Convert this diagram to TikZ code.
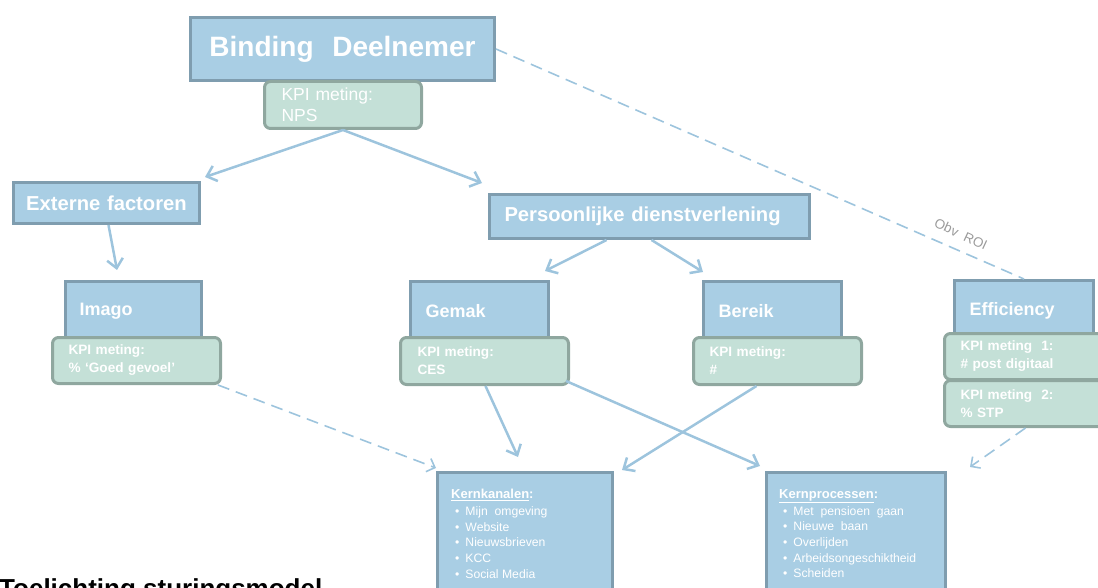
\documentclass[tikz,border=0pt]{standalone}
\usepackage{fontspec}
\setmainfont{Liberation Sans}
\usetikzlibrary{arrows.meta}
\definecolor{bfill}{HTML}{A9CEE4}
\definecolor{bdr}{HTML}{7F9DAF}
\definecolor{gfill}{HTML}{C4E0D7}
\definecolor{gdr}{HTML}{8FA79F}
\definecolor{arr}{HTML}{9DC4DD}
\definecolor{roi}{HTML}{9A9A9A}
\tikzset{
  bluebox/.style={draw=bdr, fill=bfill, line width=3pt, anchor=north west, inner ysep=0pt, text=white, align=left},
  greenbox/.style={draw=gdr, fill=gfill, line width=3pt, rounded corners=6pt, anchor=north west, inner ysep=0pt, text=white, align=left},
  conn/.style={draw=arr, line width=2.5pt, -{Straight Barb[length=9pt,width=16pt,line width=2.5pt]}},
  dconn/.style={draw=arr, line width=1.6pt, dash pattern=on 12pt off 7pt},
  kpi/.style={font=\bfseries\fontsize{13.6}{18}\selectfont},
  head/.style={font=\bfseries\fontsize{18}{22}\selectfont},
  list/.style={anchor=north west, inner sep=0pt, text=white, align=left, font=\fontsize{12.2}{15.6}\selectfont}
}
\newcommand{\itm}{\hspace*{4pt}•\hspace{6pt}}
\begin{document}
\begin{tikzpicture}[x=1pt,y=-1pt]
\useasboundingbox (0,0) rectangle (1098,588);
\clip (0,0) rectangle (1098,588);
% top
\node[bluebox, minimum width=304pt, minimum height=63pt, text width=304pt, inner xsep=0pt, align=center,
      font=\bfseries\fontsize{28}{32}\selectfont] (bind) at (189,16) {\raisebox{-3pt}{Binding\ \ Deelnemer}};
\node[greenbox, minimum width=157pt, minimum height=47pt, text width=123pt, inner xsep=17pt,
      font=\fontsize{17.5}{21}\selectfont] (nps) at (263,80) {KPI meting:\\NPS};
% level 2
\node[bluebox, minimum width=186pt, minimum height=41pt, text width=186pt, inner xsep=0pt, align=center,
      font=\bfseries\fontsize{20.2}{24}\selectfont] (ext) at (12,181) {Externe factoren};
\node[bluebox, minimum width=320pt, minimum height=44pt, text width=290pt, inner xsep=15pt,
      font=\bfseries\fontsize{20.2}{24}\selectfont] (pers) at (488,193) {Persoonlijke dienstverlening};
% level 3 blue
\node[bluebox, head, minimum width=136pt, minimum height=60pt, text width=108pt, inner xsep=14pt] (imago) at (64,280) {Imago};
\node[bluebox, head, minimum width=138pt, minimum height=60pt, text width=108pt, inner xsep=15pt] (gemak) at (409,280) {Gemak};
\node[bluebox, head, minimum width=138pt, minimum height=60pt, text width=108pt, inner xsep=15pt] (bereik) at (702,280) {Bereik};
\node[bluebox, head, minimum width=139pt, minimum height=60pt, text width=109pt, inner xsep=15pt] (eff) at (953,279) {Efficiency};
% level 3 green
\node[greenbox, kpi, minimum width=168pt, minimum height=46pt, text width=136pt, inner xsep=16pt] (imagokpi) at (51,336) {KPI meting:\\\% ‘Goed gevoel’};
\node[greenbox, kpi, minimum width=168pt, minimum height=47pt, text width=134pt, inner xsep=17pt] (gemakkpi) at (399,336) {KPI meting:\\CES};
\node[greenbox, kpi, minimum width=168pt, minimum height=47pt, text width=136pt, inner xsep=16pt] (bereikkpi) at (692,336) {KPI meting:\\\#};
\node[greenbox, kpi, minimum width=165pt, minimum height=46pt, text width=133pt, inner xsep=16pt] (effkpi1) at (943,332) {KPI meting\ \ 1:\\\# post digitaal};
\node[greenbox, kpi, minimum width=165pt, minimum height=46pt, text width=133pt, inner xsep=16pt] (effkpi2) at (943,379) {KPI meting\ \ 2:\\\% STP};
% bottom boxes
\node[bluebox, minimum width=175pt, minimum height=135pt] (kk) at (436,471) {};
\node[list] (kktext) at (451,489) {\textbf{\fontsize{13}{15.6}\selectfont\underline{Kernkanalen}:}\\[1.5pt]
  \itm Mijn\ \ omgeving\\ \itm Website\\ \itm Nieuwsbrieven\\ \itm KCC\\ \itm Social Media};
\node[bluebox, minimum width=179pt, minimum height=135pt] (kp) at (765,471) {};
\node[list] (kptext) at (779,489) {\textbf{\fontsize{13}{15.6}\selectfont\underline{Kernprocessen}:}\\[1.5pt]
  \itm Met\ \ pensioen\ \ gaan\\ \itm Nieuwe\ \ baan\\ \itm Overlijden\\ \itm Arbeidsongeschiktheid\\ \itm Scheiden};
% caption (cut off)
\node[anchor=base west, inner sep=0pt, font=\bfseries\fontsize{26}{30}\selectfont] (cap) at (-1,597) {Toelichting sturingsmodel};
% arrow tip coordinates
\coordinate (tExt) at (205,177);
\coordinate (tPers) at (482,183);
\coordinate (tImago) at (117,270);
\coordinate (tGemak) at (545,271);
\coordinate (tBereik) at (703,272);
\coordinate (tKK1) at (518,457);
\coordinate (tKK2) at (622,470);
\coordinate (tKP1) at (760,466);
\coordinate (tKKd) at (436,468);
\coordinate (tKPd) at (970,467);
\coordinate (sGemakR) at (566,381);
% connectors
\draw[conn] (nps.south) -- (tExt);
\draw[conn] (nps.south) -- (tPers);
\draw[conn] ([xshift=2pt]ext.south) -- (tImago);
\draw[conn] ([xshift=-43pt]pers.south) -- (tGemak);
\draw[conn] ([xshift=2pt]pers.south) -- (tBereik);
\draw[conn] ([xshift=1pt]gemakkpi.south) -- (tKK1);
\draw[conn] (sGemakR) -- (tKP1);
\draw[conn] ([xshift=-21pt]bereikkpi.south) -- (tKK2);
\draw[dconn, -{Straight Barb[length=7pt,width=14pt,line width=1.6pt]}] ([xshift=-4pt]imagokpi.south east) -- (tKKd);
\draw[dconn, -{Straight Barb[length=7pt,width=14pt,line width=1.6pt]}] ([xshift=-1.5pt]effkpi2.south) -- (tKPd);
\draw[dconn] (bind.east) -- (eff.north);
\node[text=roi, rotate=-25, inner sep=0pt, font=\fontsize{13.5}{15}\selectfont] (roi) at (961,234) {Obv\ \ ROI};
\end{tikzpicture}
\end{document}
